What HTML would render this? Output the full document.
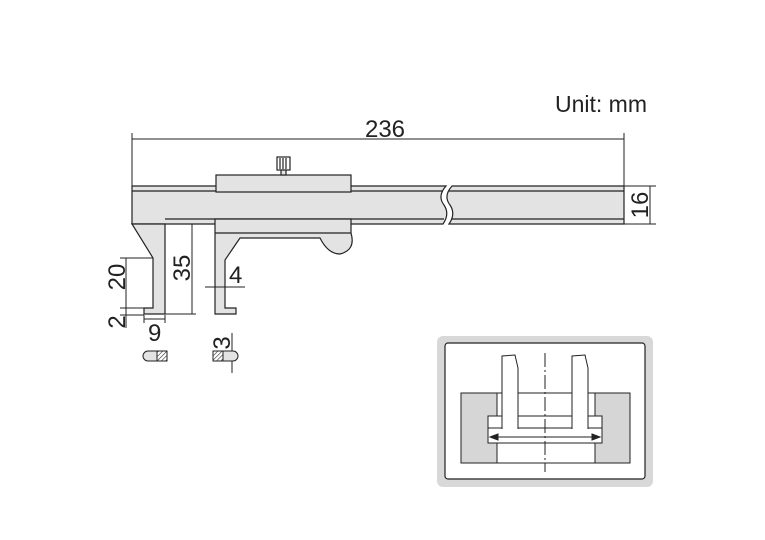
<!DOCTYPE html>
<html><head><style>body{margin:0;background:#fff}svg{display:block}text{font-family:"Liberation Sans",Arial,sans-serif;fill:#222}</style></head>
<body>
<svg width="765" height="540" viewBox="0 0 765 540" xmlns="http://www.w3.org/2000/svg">
<defs><pattern id="h" width="3" height="3" patternUnits="userSpaceOnUse" patternTransform="rotate(45)"><rect width="3" height="3" fill="#fff"/><line x1="0" y1="0" x2="0" y2="3" stroke="#333" stroke-width="1.2"/></pattern></defs>
<g stroke="#222" stroke-width="1.2" fill="#e3e3e3">
<!-- beam -->
<path d="M132,186 L446,186 Q437,196 444,205 Q450,214 443,224 L132,224 Z"/>
<path d="M452,186 L624,186 L624,224 L449,224 Q456,214 450,205 Q443,196 452,186 Z"/>
<line x1="132" y1="191" x2="443" y2="191"/><line x1="449" y1="191" x2="624" y2="191"/>
<line x1="165" y1="219" x2="444" y2="219"/><line x1="451" y1="219" x2="624" y2="219"/>
<!-- fixed jaw -->
<polygon points="132,224 165,224 165,314 144,314 144,308 153,308 153,258"/>
<!-- top slider -->
<rect x="216" y="175" width="135" height="17"/>
<rect x="277" y="157" width="13" height="13" fill="#fff"/>
<line x1="280" y1="158" x2="280" y2="169"/><line x1="283" y1="158" x2="283" y2="169"/><line x1="286" y1="158" x2="286" y2="169"/>
<rect x="281" y="170" width="5" height="5"/>
<!-- moving jaw -->
<path d="M215,219 L351,219 L351,233 Q356,250 340,254 Q328,254 320,238 L240,238 L225,260 L225,308 L236,308 L236,314 L215,314 Z"/>
<line x1="215" y1="233" x2="351" y2="233"/>
</g>
<g stroke="#222" stroke-width="1" fill="none">
<line x1="132" y1="133" x2="132" y2="186"/><line x1="624" y1="133" x2="624" y2="186"/>
<line x1="132" y1="139" x2="624" y2="139"/>
<line x1="624" y1="186" x2="656" y2="186"/><line x1="624" y1="224" x2="656" y2="224"/><line x1="650" y1="186" x2="650" y2="224"/>
<line x1="120" y1="258" x2="153" y2="258"/><line x1="120" y1="308" x2="144" y2="308"/><line x1="120" y1="315" x2="144" y2="315"/>
<line x1="126" y1="258" x2="126" y2="328"/>
<line x1="165" y1="314" x2="196" y2="314"/><line x1="192" y1="224" x2="192" y2="314"/>
<line x1="205" y1="287" x2="245" y2="287"/>
<line x1="144" y1="315" x2="144" y2="323"/><line x1="165" y1="315" x2="165" y2="323"/><line x1="144" y1="319" x2="165" y2="319"/>
<line x1="232" y1="333" x2="232" y2="373"/>
</g>
<text x="385" y="137" font-size="24" text-anchor="middle">236</text>
<text x="555" y="112" font-size="23">Unit: mm</text>
<text font-size="24" transform="translate(648,205) rotate(-90)" text-anchor="middle">16</text>
<text font-size="24" transform="translate(125,277) rotate(-90)" text-anchor="middle">20</text>
<text font-size="24" transform="translate(125,322) rotate(-90)" text-anchor="middle">2</text>
<text font-size="24" transform="translate(190,268) rotate(-90)" text-anchor="middle">35</text>
<text x="229" y="283" font-size="24">4</text>
<text x="148" y="341" font-size="24">9</text>
<text font-size="24" transform="translate(230,343) rotate(-90)" text-anchor="middle">3</text>
<g stroke="#222" stroke-width="1">
<rect x="143" y="351" width="24" height="10" rx="5" fill="#e3e3e3"/><rect x="157" y="351" width="10" height="10" fill="url(#h)"/>
<rect x="213" y="351" width="25" height="10" rx="5" fill="#e3e3e3"/><rect x="213" y="351" width="10" height="10" fill="url(#h)"/>
</g>
<!-- inset -->
<rect x="437" y="336" width="216" height="151" rx="6" fill="#d8d8d8"/>
<rect x="445" y="343" width="200" height="136" rx="3" fill="#fff" stroke="#222" stroke-width="1.2"/>
<g stroke="#222" stroke-width="1" fill="#fff">
<rect x="461" y="393" width="169" height="70" fill="#fff"/>
<rect x="461" y="393" width="36" height="70" fill="#d6d6d6"/>
<rect x="595" y="393" width="35" height="70" fill="#d6d6d6"/>
<rect x="488" y="416" width="114" height="27"/>
<line x1="488" y1="428" x2="602" y2="428"/>
<path d="M502,429 L502,356 L515,355 L518,368 L518,429"/>
<path d="M572,429 L572,356 L585,355 L588,368 L588,429"/>
<line x1="491" y1="437" x2="599" y2="437"/>
<polygon points="490,437 498,434 498,440" fill="#222"/><polygon points="600,437 592,434 592,440" fill="#222"/>
<line x1="545" y1="353" x2="545" y2="472" stroke-dasharray="14,3,2,3"/>
</g>
</svg>
</body></html>
